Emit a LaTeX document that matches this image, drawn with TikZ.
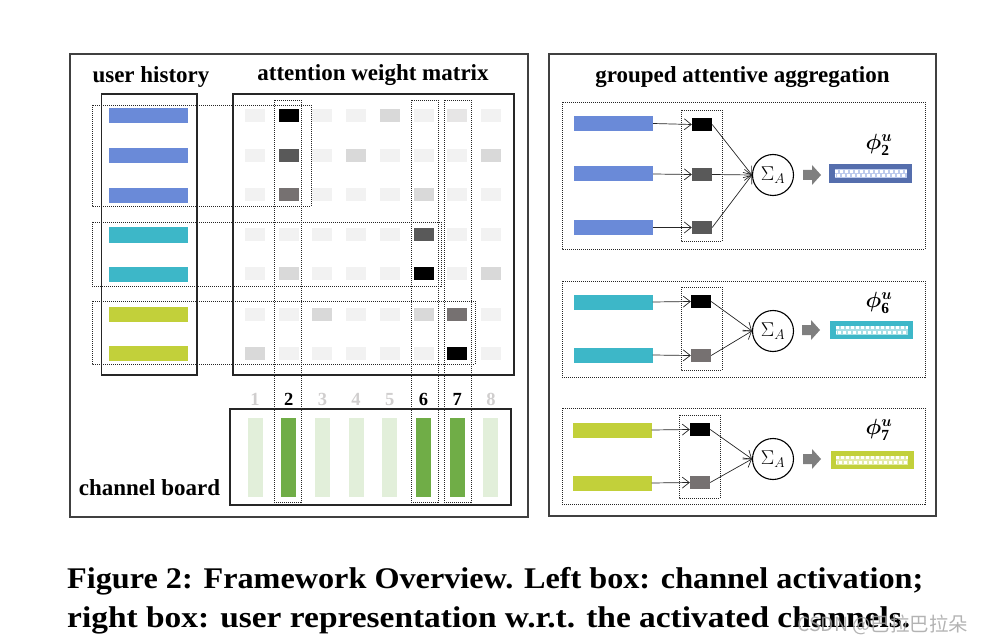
\RequirePackage{fix-cm}
\documentclass[tikz,border=0pt]{standalone}
\usepackage{graphicx}
\usepackage{amsmath}
\usepackage{bm}
\usepackage{fontspec}
\setmainfont{Liberation Serif}
\newfontfamily\cjkfont{Noto Sans CJK SC}
\usetikzlibrary{arrows.meta}
\definecolor{hblue}{RGB}{106,138,216}
\definecolor{hteal}{RGB}{61,183,200}
\definecolor{hlime}{RGB}{194,208,58}
\definecolor{gA}{HTML}{F2F2F2}
\definecolor{gB}{HTML}{D9D9D9}
\definecolor{gC}{HTML}{595959}
\definecolor{gD}{HTML}{767171}
\definecolor{gE}{HTML}{E7E6E6}
\definecolor{chon}{HTML}{70AD47}
\definecolor{choff}{HTML}{E2EFDA}
\definecolor{numoff}{HTML}{D0CECE}
\definecolor{framec}{HTML}{404040}
\definecolor{fatgray}{HTML}{7F7F7F}
\definecolor{wmark}{HTML}{A6A6A6}
\begin{document}
\begin{tikzpicture}[x=1pt,y=-1pt,
  outerbox/.style={draw=framec,line width=1.3pt},
  solidbox/.style={draw=black!85,line width=1.2pt},
  dotbox/.style={draw=black!85,line width=0.9pt,dash pattern=on 1pt off 1pt},
  hbar/.style={rectangle,inner sep=0pt,draw=none,minimum width=79pt,minimum height=15pt},
  cell/.style={rectangle,inner sep=0pt,draw=none,minimum width=20pt,minimum height=13pt},
  chbar/.style={rectangle,inner sep=0pt,draw=none,minimum width=15pt,minimum height=79pt},
  numlbl/.style={inner sep=0pt,anchor=base,font=\fontsize{18.5}{20}\selectfont\bfseries},
  title/.style={inner sep=0pt,anchor=base,font=\fontsize{23}{26}\selectfont\bfseries},
  sq/.style={rectangle,inner sep=0pt,draw=none,minimum width=20pt,minimum height=13pt},
  sumnode/.style={circle,draw=black,line width=1.1pt,minimum size=41pt,inner sep=0pt,font=\fontsize{20}{24}\selectfont},
  outbar/.style={rectangle,inner sep=0pt,draw=none,minimum width=83pt,minimum height=19pt},
  philbl/.style={inner sep=0pt,font=\fontsize{22}{26}\selectfont},
  conn/.style={draw=black!85,line width=0.7pt,-{Straight Barb[length=7pt,width=11pt]}},
  caption/.style={inner sep=0pt,anchor=base west,font=\fontsize{30}{36}\selectfont\bfseries}
]
\useasboundingbox (0,0) rectangle (984,644);

% ---------- left panel ----------
\draw[outerbox] (70,54) rectangle (528,517);
\node[title] (tuh) at (151,83) {user history};
\node[title] (tawm) at (373,81) {attention weight matrix};
\node[title] (tcb) at (149.5,495) {channel board};

% user history bars
\foreach \yy/\cc [count=\i] in {116/hblue,156/hblue,195.5/hblue,235/hteal,274.5/hteal,314/hlime,353.5/hlime}
  \node[hbar,fill=\cc] (h\i) at (148.5,\yy) {};

% attention cells
\foreach \c [count=\i] in {gA,black,gA,gA,gB,gA,gE,gA}
  \node[cell,fill=\c] (m1-\i) at ({255+(\i-1)*33.7},115.5) {};
\foreach \c [count=\i] in {gA,gC,gA,gB,gA,gA,gA,gB}
  \node[cell,fill=\c] (m2-\i) at ({255+(\i-1)*33.7},155.5) {};
\foreach \c [count=\i] in {gA,gD,gA,gA,gA,gB,gA,gA}
  \node[cell,fill=\c] (m3-\i) at ({255+(\i-1)*33.7},194.5) {};
\foreach \c [count=\i] in {gA,gA,gA,gA,gA,gC,gA,gA}
  \node[cell,fill=\c] (m4-\i) at ({255+(\i-1)*33.7},234.5) {};
\foreach \c [count=\i] in {gA,gB,gA,gA,gA,black,gA,gB}
  \node[cell,fill=\c] (m5-\i) at ({255+(\i-1)*33.7},273.5) {};
\foreach \c [count=\i] in {gA,gA,gB,gA,gA,gB,gD,gA}
  \node[cell,fill=\c] (m6-\i) at ({255+(\i-1)*33.7},314) {};
\foreach \c [count=\i] in {gB,gA,gA,gA,gA,gA,black,gA}
  \node[cell,fill=\c] (m7-\i) at ({255+(\i-1)*33.7},353.5) {};

% channel numbers and bars
\foreach \c [count=\i] in {numoff,black,numoff,numoff,numoff,black,black,numoff}
  \node[numlbl,text=\c] (n\i) at ({255+(\i-1)*33.7},405.5) {\i};
\foreach \c [count=\i] in {choff,chon,choff,choff,choff,chon,chon,choff}
  \node[chbar,fill=\c] (ch\i) at ({255+(\i-1)*33.7},457.5) {};

% solid boxes
\draw[solidbox] (101.7,94) rectangle (197,375);
\draw[solidbox] (233,94) rectangle (514,375);
\draw[solidbox] (230,409) rectangle (511,505);

% dotted group boxes
\draw[dotbox] (92,105) rectangle (311,206);
\draw[dotbox] (92,222) rectangle (441,286);
\draw[dotbox] (92,301) rectangle (475,364);
\draw[dotbox] (274,100) rectangle (301,502);
\draw[dotbox] (411,100) rectangle (438,502);
\draw[dotbox] (444,100) rectangle (471,502);

% ---------- right panel ----------
\draw[outerbox] (549,54) rectangle (936,516);
\node[title] (tga) at (742.5,83) {grouped attentive aggregation};

% group 1
\draw[dotbox] (562,102) rectangle (925,249);
\draw[dotbox] (681,110) rectangle (722,241);
\node[hbar,fill=hblue] (a1) at (613.5,123.5) {};
\node[hbar,fill=hblue] (a2) at (613.5,174) {};
\node[hbar,fill=hblue] (a3) at (613.5,227.5) {};
\node[sq,fill=black] (s1) at (702,124.5) {};
\node[sq,fill=gC] (s2) at (702,174.5) {};
\node[sq,fill=gC] (s3) at (702,227.5) {};
\node[sumnode] (c1) at (773,175) {$\Sigma_{A}$};
\node[outbar,fill=hblue!80!black] (o1) at (870.5,173.5) {};
\node[philbl] (p1) at (879,145) {$\bm{\phi}^{\bm{u}}_{\mathbf{2}}$};
\foreach \k in {1,2,3} \draw[conn] (a\k.east) -- (s\k.west);
\foreach \k in {1,2,3} \draw[conn] (s\k.east) -- (c1.west);
\fill[fatgray,shift={(803,175)}] (0,-5) -- (9,-5) -- (9,-10) -- (18,0) -- (9,10) -- (9,5) -- (0,5) -- cycle;

% group 2
\draw[dotbox] (562,281) rectangle (925,377);
\draw[dotbox] (681,287) rectangle (722,370);
\node[hbar,fill=hteal] (b1) at (613,302) {};
\node[hbar,fill=hteal] (b2) at (613,355) {};
\node[sq,fill=black] (t1) at (701,301.5) {};
\node[sq,fill=gD] (t2) at (701,355.5) {};
\node[sumnode] (c2) at (773,331) {$\Sigma_{A}$};
\node[outbar,fill=hteal,minimum height=18pt] (o2) at (871.5,330) {};
\node[philbl] (p2) at (879,303) {$\bm{\phi}^{\bm{u}}_{\mathbf{6}}$};
\foreach \k in {1,2} \draw[conn] (b\k.east) -- (t\k.west);
\foreach \k in {1,2} \draw[conn] (t\k.east) -- (c2.west);
\fill[fatgray,shift={(802,330)}] (0,-5) -- (9,-5) -- (9,-10) -- (18,0) -- (9,10) -- (9,5) -- (0,5) -- cycle;

% group 3
\draw[dotbox] (562,408) rectangle (925,504);
\draw[dotbox] (679,415) rectangle (720,498);
\node[hbar,fill=hlime] (d1) at (612,430) {};
\node[hbar,fill=hlime] (d2) at (612,483) {};
\node[sq,fill=black] (u1) at (700,429.5) {};
\node[sq,fill=gD] (u2) at (700,482.5) {};
\node[sumnode] (c3) at (773,459) {$\Sigma_{A}$};
\node[outbar,fill=hlime,minimum height=18pt] (o3) at (872,460) {};
\node[philbl] (p3) at (879,430) {$\bm{\phi}^{\bm{u}}_{\mathbf{7}}$};
\foreach \k in {1,2} \draw[conn] (d\k.east) -- (u\k.west);
\foreach \k in {1,2} \draw[conn] (u\k.east) -- (c3.west);
\fill[fatgray,shift={(803,459)}] (0,-5) -- (9,-5) -- (9,-10) -- (18,0) -- (9,10) -- (9,5) -- (0,5) -- cycle;

% patterns inside output bars
\foreach \o/\cc in {o1/hblue,o2/hteal,o3/hlime}{
  \fill[\cc!45!white] ([shift={(-36,-4.5)}]\o.center) rectangle ([shift={(36,4.5)}]\o.center);
  \draw[white,line width=3pt,dash pattern=on 3pt off 2pt] ([shift={(-36,-2.2)}]\o.center) -- ([shift={(36,-2.2)}]\o.center);
  \draw[white,line width=3pt,dash pattern=on 3pt off 2pt,dash phase=2.5pt] ([shift={(-36,2.2)}]\o.center) -- ([shift={(36,2.2)}]\o.center);
}

% ---------- caption ----------
\node[caption] (cap1) at (67,588) {\resizebox{856pt}{\height}{Figure 2: Framework Overview. Left box: channel activation;}};
\node[caption] (cap2) at (67,627) {\resizebox{843pt}{\height}{right box: user representation w.r.t. the activated channels.}};
\node[inner sep=0pt,anchor=west,text=wmark,opacity=0.85] (wm) at (797,625) {\resizebox{171pt}{!}{\cjkfont\fontsize{18}{20}\selectfont CSDN @巴拉巴拉朵}};
\end{tikzpicture}
\end{document}
